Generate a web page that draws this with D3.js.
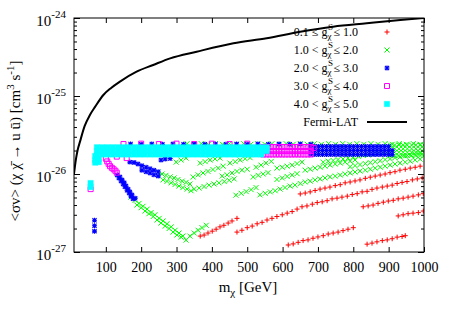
<!DOCTYPE html>
<html><head><meta charset="utf-8">
<script src="https://cdn.jsdelivr.net/npm/d3@7"></script>
<style>
body{margin:0;background:#fff}
svg{display:block}
text{font-family:"Liberation Serif","Times New Roman",serif;fill:#000}
</style>
</head><body>
<svg id="c" width="452" height="316"></svg>
<script>
// ---------- DATA (sigma values in units of 1e-26 cm^3 s^-1) ----------
const SIGMA_UNIT = 1e-26;
const massTicks = [100,200,300,400,500,600,700,800,900,1000];
const sigmaMajor = [1e-27,1e-26,1e-25,1e-24];
const sigmaExp = ["-27","-26","-25","-24"];
const legendLo = ["0.1","1.0","2.0","3.0","4.0"];
const legendRel = ["≤","<","<","<","<"];
const legendHi = ["1.0","2.0","3.0","4.0","5.0"];
const fermiLabel = "Fermi-LAT";

// 0.1 <= g <= 1.0
const redPts = [
[367,0.16],[378,0.165],[389,0.175],[401,0.185],[412,0.196],[423,0.21],[434,0.22],[446,0.235],[457,0.25],[471,0.27],
[471,0.18],[485,0.19],[500,0.205],[514,0.215],[528,0.23],[542,0.24],[556,0.257],[570,0.27],[584,0.285],[599,0.30],[613,0.315],[627,0.33],[641,0.355],[655,0.38],[669,0.39],[684,0.41],[698,0.43],[712,0.44],[726,0.455],[740,0.48],[754,0.49],[768,0.505],[783,0.52],[797,0.545],[811,0.56],[825,0.59],[839,0.60],[853,0.635],[867,0.66],[882,0.68],[896,0.70],[910,0.72],[924,0.755],[938,0.78],[952,0.80],[967,0.84],[981,0.865],[995,0.89],
[650,0.555],[664,0.57],[678,0.59],[692,0.615],[706,0.64],[720,0.66],[734,0.68],[749,0.71],[763,0.73],[777,0.77],[791,0.79],[805,0.815],[819,0.84],[834,0.88],[848,0.91],[862,0.94],[876,0.97],[890,1.0],[904,1.04],[918,1.07],[932,1.12],[947,1.15],[961,1.19],[975,1.22],[989,1.26],
[616,0.123],[630,0.127],[644,0.133],[658,0.14],[672,0.143],[686,0.15],[700,0.156],[715,0.162],[729,0.17],[743,0.175],[757,0.18],[771,0.188],[785,0.196],[800,0.205],
[839,0.126],[853,0.13],[867,0.135],[882,0.14],[896,0.143],[910,0.148],[924,0.155],[938,0.158],[947,0.162],
[828,0.38],[842,0.39],[856,0.40],[870,0.42],[885,0.435],[899,0.45],[913,0.46],[927,0.48],[941,0.49],[955,0.505],[969,0.52],[984,0.54],[998,0.56],
[927,0.29],[941,0.30],[955,0.31],[969,0.315],[984,0.32],[998,0.335]
];

// 1.0 < g <= 2.0
const greenPts = [
[171,0.505],[183,0.46],[194,0.42],[205,0.385],[217,0.355],[228,0.32],[239,0.30],[251,0.27],[262,0.25],[273,0.23],[285,0.21],[296,0.19],[307,0.175],[318,0.16],
[188,0.40],[200,0.37],[211,0.335],[222,0.31],[234,0.285],[245,0.257],[256,0.235],[268,0.215],[279,0.20],[290,0.18],[301,0.165],[313,0.155],[327,0.142],
[338,0.16],[350,0.175],[361,0.19],[372,0.205],[384,0.22],
[248,1.06],[259,1.0],[270,0.96],[282,0.92],[293,0.89],[304,0.85],[316,0.81],[327,0.78],[338,0.745],
[262,0.84],[273,0.805],[285,0.77],[296,0.735],[307,0.70],[318,0.67],[330,0.64],[341,0.61],
[350,0.64],[364,0.66],[378,0.69],[392,0.72],[406,0.745],[420,0.77],[435,0.80],[449,0.83],[463,0.865],
[468,0.535],[483,0.565],[497,0.595],[511,0.63],[525,0.67],
[536,0.54],[551,0.565],[565,0.59],[579,0.61],[593,0.64],[607,0.67],[621,0.70],[635,0.72],[650,0.755],[664,0.79],[678,0.81],[692,0.84],[706,0.865],[720,0.89],[734,0.92],[749,0.94],[763,0.97],[777,1.0],[791,1.03],[805,1.06],[819,1.09],[834,1.12],[848,1.15],[862,1.19],[876,1.22],[890,1.26],[904,1.30],[918,1.34],[932,1.38],[947,1.42],[961,1.46],[975,1.51],[989,1.55],
[664,1.12],[678,1.15],[692,1.19],[706,1.22],[720,1.26],[734,1.30],[749,1.34],[763,1.38],[777,1.42],[791,1.46],[805,1.51],
[791,1.24],[805,1.28],[819,1.32],[834,1.36],[848,1.40],[862,1.44],[876,1.48],[890,1.53],[904,1.57],[918,1.62],[932,1.65],[947,1.70],[961,1.75],[975,1.78],[989,1.83],
[715,1.42],[729,1.46],[743,1.49],[757,1.53],[771,1.56],[785,1.60],[800,1.65],[814,1.68],[828,1.73],[842,1.75],[856,1.80],[870,1.83],[885,1.88],[899,1.91],
[525,1.22],[539,1.30],[553,1.38],[568,1.45],
[584,1.19],[599,1.22],[613,1.26],[627,1.30],[641,1.36],[655,1.42],
[517,0.915],[531,0.96],[545,1.0],[559,1.04],
[584,0.85],[599,0.89],[613,0.93],[627,0.97],[641,1.01],
[347,0.915],[361,0.975],[375,1.03],[389,1.08],[403,1.14],[418,1.19],[432,1.26],
[429,0.94],[443,0.975],[457,1.03],[471,1.08],[485,1.12],[500,1.15],
[299,1.42],[313,1.51],[327,1.60],
[367,1.38],[381,1.44],[395,1.51],[409,1.56],[423,1.60],
[451,1.38],[466,1.44],[480,1.51],[494,1.57],[508,1.62],
[330,2.45],[350,2.4],[370,2.45],[390,2.4],[410,2.45],[430,2.4],[450,2.45],[470,2.4],[490,2.45],[510,2.4],[530,2.45],[550,2.4],[570,2.45],[590,2.4],[610,2.45],[630,2.4],[650,2.45],[670,2.4],[690,2.45],[710,2.4],[730,2.45],[750,2.4],[770,2.45],[790,2.4],[810,2.45],[830,2.4],[850,2.45],[870,2.4],[890,2.45],[910,2.4],[930,2.45],[950,2.4],[970,2.45],[990,2.4],
[905,2.35],[917,2.35],[929,2.35],[941,2.35],[953,2.35],[965,2.35],[977,2.35],[989,2.35],[1000,2.35],
[905,2.1],[917,2.1],[929,2.1],[941,2.1],[953,2.1],[965,2.1],[977,2.1],[989,2.1],[1000,2.1],
[905,1.9],[917,1.9],[929,1.9],[941,1.9],[953,1.9],[965,1.9],[977,1.9],[989,1.9],[1000,1.9],
[905,1.72],[917,1.72],[929,1.72],[941,1.72],[953,1.72],[965,1.72],[977,1.72],[989,1.72],[1000,1.72]
];

// 2.0 < g <= 3.0
const bluePts = [
[68,0.255],[68,0.217],[68,0.185],
[132,0.97],[137,0.89],[143,0.815],[149,0.745],[154,0.685],[160,0.62],[166,0.57],[171,0.52],[177,0.48],
[140,0.915],[146,0.84],[152,0.77],[157,0.70],[163,0.64],[168,0.59],[174,0.54],[183,0.49],
[168,1.42],[180,1.40],[191,1.34],[202,1.28],[214,1.22],[225,1.17],[236,1.12],[248,1.07],
[202,1.12],[214,1.07],[225,1.03],[236,0.98],[248,0.94],
[256,1.51],[268,1.56],[282,1.58],
[170,2.42],[200,2.4],[230,2.42],[260,2.4],[290,2.42],[320,2.4],[350,2.42],[380,2.4],[410,2.42],[440,2.4],[470,2.42],[500,2.4],[530,2.42],[560,2.4],[590,2.42],[620,2.4],[650,2.42],[680,2.4],
[680,2.25],[691,2.25],[702,2.25],[713,2.25],[724,2.25],[735,2.25],[746,2.25],[757,2.25],[768,2.25],[779,2.25],[790,2.25],[801,2.25],[812,2.25],[823,2.25],[834,2.25],[845,2.25],[856,2.25],[867,2.25],[878,2.25],[889,2.25],[900,2.25],
[680,2.0],[691,2.0],[702,2.0],[713,2.0],[724,2.0],[735,2.0],[746,2.0],[757,2.0],[768,2.0],[779,2.0],[790,2.0],[801,2.0],[812,2.0],[823,2.0],[834,2.0],[845,2.0],[856,2.0],[867,2.0],[878,2.0],[889,2.0],[900,2.0],[910,2.0],
[680,1.78],[691,1.78],[702,1.78],[713,1.78],[724,1.78],[735,1.78],[746,1.78],[757,1.78],[768,1.78],[779,1.78],[790,1.78],[801,1.78],[812,1.78],[823,1.78],[834,1.78],[845,1.78],[856,1.78],[867,1.78],[878,1.78],[889,1.78],[900,1.78],[910,1.78]
];

// 3.0 < g <= 4.0
const magentaPts = [
[57,0.64],
[100,1.57],[104,1.45],[108,1.35],[112,1.26],[117,1.2],[122,1.15],[127,1.1],[131,1.04],[131,1.67],[159,1.6],
[150,2.42],[200,2.45],[250,2.42],[300,2.45],[350,2.42],[400,2.45],[450,2.42],[500,2.45],
[545,2.22],[554,2.22],[563,2.22],[572,2.22],[581,2.22],[590,2.22],[599,2.22],[608,2.22],[617,2.22],[626,2.22],[635,2.22],[644,2.22],[653,2.22],[662,2.22],[671,2.22],[680,2.22],
[545,1.97],[554,1.97],[563,1.97],[572,1.97],[581,1.97],[590,1.97],[599,1.97],[608,1.97],[617,1.97],[626,1.97],[635,1.97],[644,1.97],[653,1.97],[662,1.97],[671,1.97],[680,1.97],
[545,1.78],[554,1.78],[563,1.78],[572,1.78],[581,1.78],[590,1.78],[599,1.78],[608,1.78],[617,1.78],[626,1.78],[635,1.78],[644,1.78],[653,1.78],[662,1.78],[671,1.78],[680,1.78],
[688,2.15]
];

// 4.0 < g <= 5.0
const cyanPts = [
[57,0.765],[57,0.68],
[70,1.7],[70,1.5],[70,1.4],[80,1.55],[80,1.42],
[75,2.2],[90,2.2],[105,2.2],[120,2.2],[135,2.2],[150,2.2],[165,2.2],[180,2.2],[195,2.2],[210,2.2],[225,2.2],[240,2.2],[255,2.2],[270,2.2],[285,2.2],[300,2.2],[315,2.2],[330,2.2],[345,2.2],[360,2.2],[375,2.2],[390,2.2],[405,2.2],[420,2.2],[435,2.2],[450,2.2],[465,2.2],[480,2.2],[495,2.2],[510,2.2],[525,2.2],[540,2.2],[555,2.2],
[75,1.97],[90,1.97],[105,1.97],[120,1.97],[135,1.97],[150,1.97],[165,1.97],[180,1.97],[195,1.97],[210,1.97],[225,1.97],[240,1.97],[255,1.97],[270,1.97],[285,1.97],[300,1.97],[315,1.97],[330,1.97],[345,1.97],[360,1.97],[375,1.97],[390,1.97],[405,1.97],[420,1.97],[435,1.97],[450,1.97],[465,1.97],[480,1.97],[495,1.97],[510,1.97],[525,1.97],[540,1.97],[555,1.97],
[75,1.78],[90,1.78],[105,1.78],[120,1.78],[135,1.78],[150,1.78],[165,1.78],[180,1.78],[195,1.78],[210,1.78],[225,1.78],[240,1.78],[255,1.78],[270,1.78],[285,1.78],[300,1.78],[315,1.78],[330,1.78],[345,1.78],[360,1.78],[375,1.78],[390,1.78],[405,1.78],[420,1.78],[435,1.78],[450,1.78],[465,1.78],[480,1.78],[495,1.78],[510,1.78],[525,1.78],[540,1.78]
];

// Fermi-LAT limit
const fermiPts = [
[10,1.0],[15,1.5],[20,2.0],[27,2.6],[40,4.1],[55,5.7],[70,7.3],[93,10.3],[115,12.7],[140,15.3],[187,20.5],[234,25],[282,30.4],[357,37],[461,47.4],[555,54.9],[650,66.7],[743,77.4],[838,85.5],[933,94.2],[1000,100]
];

// ---------- LAYOUT ----------
const W = 452, H = 316;
const L = 74, R = 424, T = 18, B = 252;
const x = d3.scaleLinear().domain([10,1000]).range([L,R]);
const y = d3.scaleLog().domain([1e-27,1e-24]).range([B,T]);

const svg = d3.select("#c");
svg.append("rect").attr("width",W).attr("height",H).attr("fill","#fff");
svg.append("defs").append("clipPath").attr("id","clip")
  .append("rect").attr("x",L).attr("y",T).attr("width",R-L).attr("height",B-T);

const plot = svg.append("g").attr("clip-path","url(#clip)");
const S = 2.5;
const shapes = {
  plus: `M${-S},0H${S}M0,${-S}V${S}`,
  cross: `M${-S},${-S}L${S},${S}M${-S},${S}L${S},${-S}`,
  star: `M${-S},0H${S}M0,${-S}V${S}M${-S+0.4},${-S+0.4}L${S-0.4},${S-0.4}M${-S+0.4},${S-0.4}L${S-0.4},${-S+0.4}`,
  box: `M${-S},${-S}H${S}V${S}H${-S}Z`,
  fbox: `M-2.75,-2.75H2.75V2.75H-2.75Z`
};
const series = [
  {pts: redPts, shape: "plus", color: "#ff0000", fill: "none", sw: 1},
  {pts: greenPts, shape: "cross", color: "#00ff00", fill: "none", sw: 1},
  {pts: bluePts, shape: "star", color: "#0000ff", fill: "none", sw: 1.1},
  {pts: magentaPts, shape: "box", color: "#ff00ff", fill: "none", sw: 1},
  {pts: cyanPts, shape: "fbox", color: "#00ffff", fill: "#00ffff", sw: 0.3}
];
series.forEach(s => {
  plot.append("g").selectAll("path").data(s.pts).join("path")
    .attr("transform", d => `translate(${x(d[0])},${y(d[1]*SIGMA_UNIT)})`)
    .attr("d", shapes[s.shape])
    .attr("fill", s.fill).attr("stroke", s.color).attr("stroke-width", s.sw);
});

const line = d3.line().x(d => x(d[0])).y(d => y(d[1]*SIGMA_UNIT)).curve(d3.curveMonotoneX);
plot.append("path").datum(fermiPts).attr("d", line)
  .attr("fill","none").attr("stroke","#000").attr("stroke-width",2);

// ---------- AXES ----------
const minorY = y.ticks().filter(v => !sigmaMajor.some(m => Math.abs(m - v)/m < 1e-6));
function styleAxis(g){ g.select(".domain").remove(); g.selectAll(".tick line").attr("stroke","#000"); }

svg.append("g").attr("transform",`translate(${L},0)`)
  .call(d3.axisLeft(y).tickValues(sigmaMajor).tickSize(-6).tickFormat("")).call(styleAxis);
svg.append("g").attr("transform",`translate(${L},0)`)
  .call(d3.axisLeft(y).tickValues(minorY).tickSize(-3).tickFormat("")).call(styleAxis);
svg.append("g").attr("transform",`translate(${R},0)`)
  .call(d3.axisRight(y).tickValues(sigmaMajor).tickSize(-6).tickFormat("")).call(styleAxis);
svg.append("g").attr("transform",`translate(${R},0)`)
  .call(d3.axisRight(y).tickValues(minorY).tickSize(-3).tickFormat("")).call(styleAxis);

const xb = svg.append("g").attr("transform",`translate(0,${B})`)
  .call(d3.axisBottom(x).tickValues(massTicks).tickSize(-5).tickPadding(10).tickFormat(d3.format("d")))
  .call(styleAxis);
xb.selectAll("text").attr("font-size",14).attr("font-family","Liberation Serif, Times New Roman, serif").attr("fill","#000");
svg.append("g").attr("transform",`translate(0,${T})`)
  .call(d3.axisTop(x).tickValues(massTicks).tickSize(-5).tickFormat("")).call(styleAxis);

// y tick labels 10^n
sigmaMajor.forEach((v,i) => {
  const t = svg.append("text").attr("x",66).attr("y",y(v)+7.5).attr("text-anchor","end");
  t.append("tspan").attr("font-size",15).text("10");
  t.append("tspan").attr("font-size",11).attr("dy",-7.5).text(sigmaExp[i]);
});

// frame
svg.append("rect").attr("x",L).attr("y",T).attr("width",R-L).attr("height",B-T)
  .attr("fill","none").attr("stroke","#000").attr("stroke-width",1);

// x label
const xl = svg.append("text").attr("x",248).attr("y",292).attr("text-anchor","middle").attr("font-size",15);
xl.append("tspan").text("m");
xl.append("tspan").attr("font-size",11).attr("dy",4).text("χ");
xl.append("tspan").attr("dy",-4).text(" [GeV]");

// y label
const yl = svg.append("text").attr("transform","translate(20,141) rotate(-90)")
  .attr("text-anchor","middle").attr("font-size",15);
yl.append("tspan").text("<σv> (χ χ\u0304 → u u\u0304)  [cm");
yl.append("tspan").attr("font-size",11).attr("dy",-6).text("3");
yl.append("tspan").attr("dy",6).text(" s");
yl.append("tspan").attr("font-size",11).attr("dy",-6).text("-1");
yl.append("tspan").attr("dy",6).text("]");

// ---------- LEGEND ----------
const lg = svg.append("g");
const legY0 = 32, legDY = 18, legTextX = 358, legSymX = 387;
legendLo.forEach((lo,i) => {
  const cy = legY0 + i*legDY;
  const right = lg.append("text").attr("x",legTextX).attr("y",cy+4).attr("text-anchor","end")
    .attr("font-size",12).text(` ≤ ${legendHi[i]}`);
  const w = right.node().getComputedTextLength();
  const gx = legTextX - w - 6;
  lg.append("text").attr("x",gx).attr("y",cy+7).attr("font-size",9).text("χ");
  lg.append("text").attr("x",gx+0.5).attr("y",cy-2.5).attr("font-size",9).text("S");
  lg.append("text").attr("x",gx).attr("y",cy+4).attr("text-anchor","end")
    .attr("font-size",12).text(`${lo} ${legendRel[i]} g`);
  const s = series[i];
  lg.append("path").attr("transform",`translate(${legSymX},${cy})`).attr("d",shapes[s.shape])
    .attr("fill",s.fill).attr("stroke",s.color).attr("stroke-width",s.sw);
});
const fy = legY0 + 5*legDY;
lg.append("text").attr("x",legTextX).attr("y",fy+4).attr("text-anchor","end").attr("font-size",12).text(fermiLabel);
lg.append("line").attr("x1",367).attr("x2",407).attr("y1",fy).attr("y2",fy)
  .attr("stroke","#000").attr("stroke-width",2);
</script>
</body></html>
